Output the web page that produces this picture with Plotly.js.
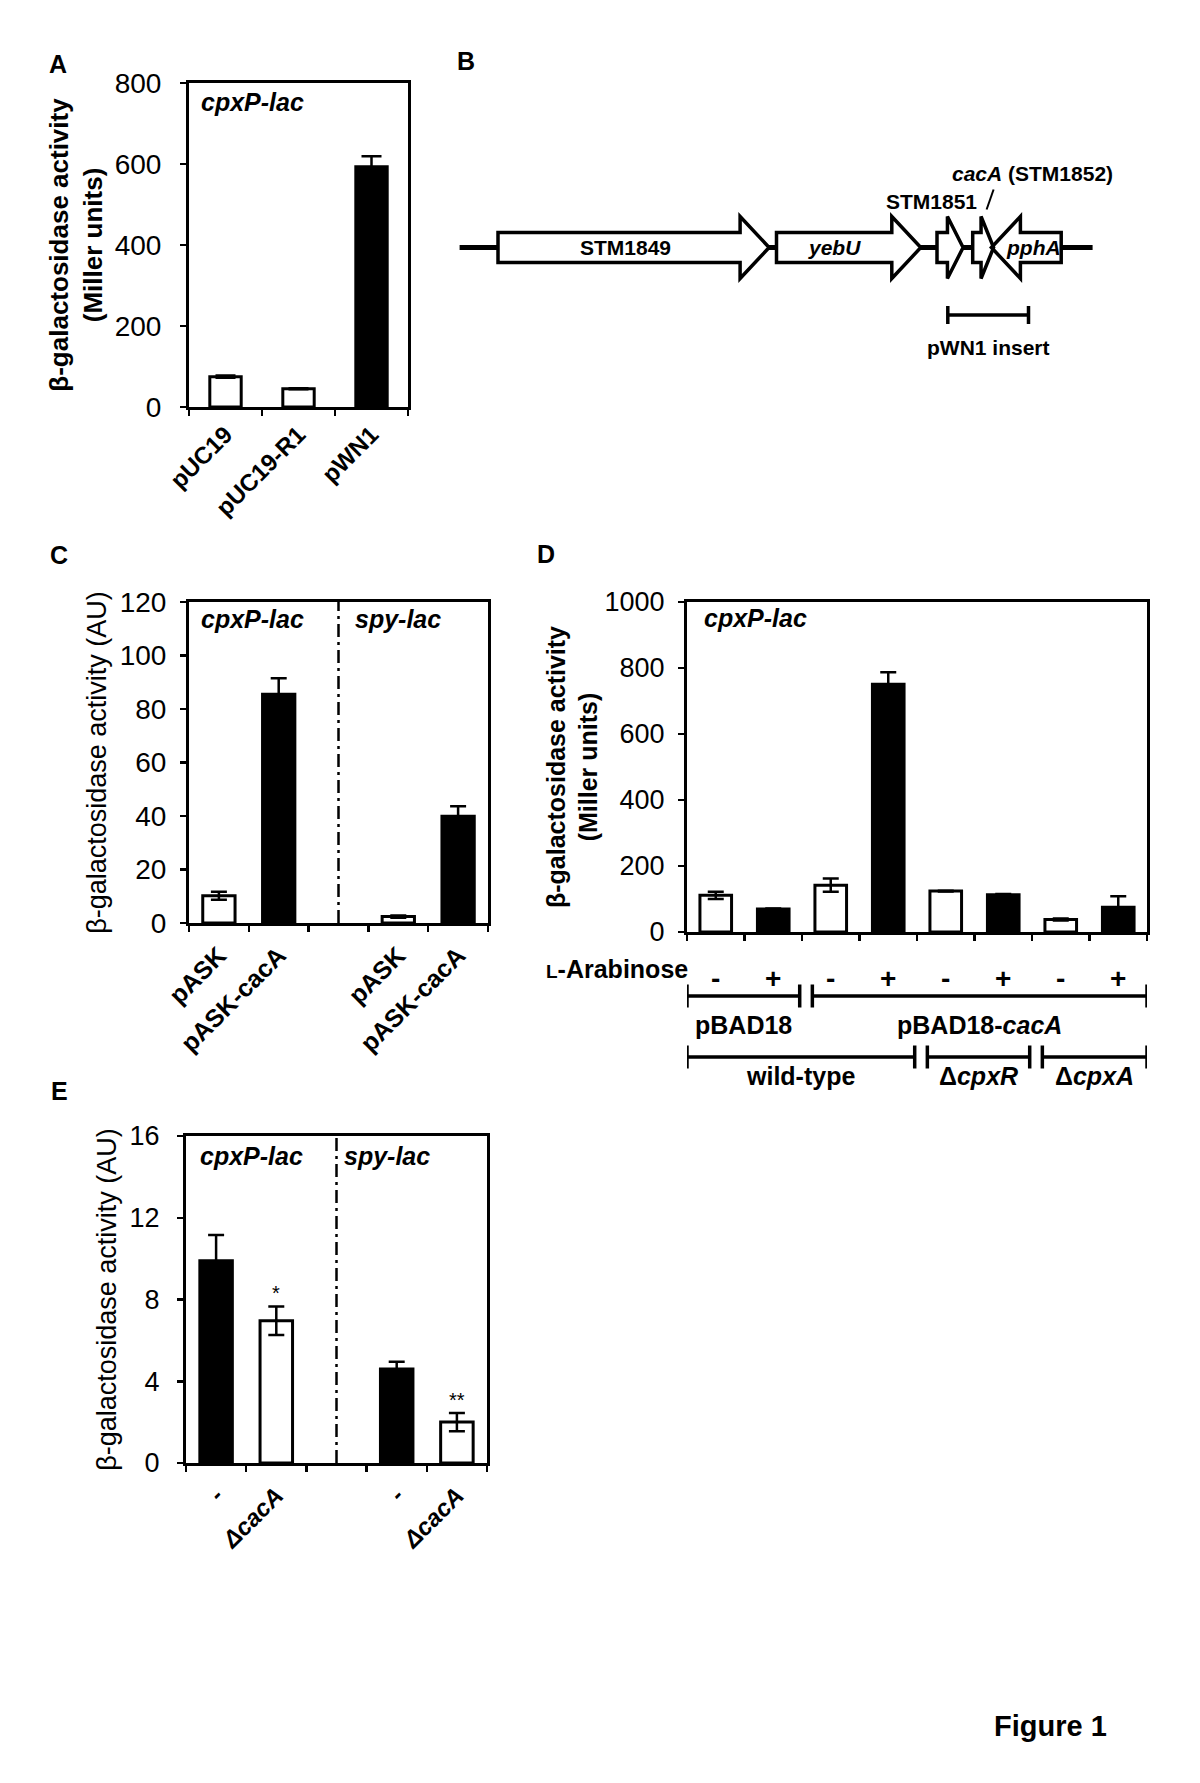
<!DOCTYPE html>
<html><head><meta charset="utf-8">
<script src="https://cdn.plot.ly/plotly-3.0.1.min.js"></script>
<style>html,body{margin:0;padding:0;background:#fff}</style>
</head><body><div id="chart" style="width:1200px;height:1783px"></div>
<script>
// ---------------- DATA ----------------
// Panel A
const aCategories = ['pUC19', 'pUC19-R1', 'pWN1'];
const aValues = [75, 45, 593];
const aErrors = [3, 1, 26];
const aFill = ['white', 'white', 'black'];

// Panel B (gene map, diagram units)
const geneNames = ['STM1849', 'yebU', 'STM1851', 'cacA', 'pphA'];
const geneStart = [498, 776.5, 937, 972.7, 1061.2];
const geneEnd = [769.1, 920.8, 963.1, 993.6, 991.4];
const locusSpan = [459.6, 1092.6];
const insertSpan = [947.8, 1028.5];

// Panel C
const cCategories = ['pASK', 'pASK-cacA', '', 'pASK', 'pASK-cacA'];
const cValues = [10.2, 85.5, null, 2.4, 39.9];
const cErrors = [1.5, 6, null, 0.4, 3.7];
const cFill = ['white', 'black', null, 'white', 'black'];
const cReporters = ['cpxP-lac', 'spy-lac'];

// Panel D
const dArabinose = ['-', '+', '-', '+', '-', '+', '-', '+'];
const dValues = [111, 70, 142, 751, 124, 113, 38, 75];
const dErrors = [11, 1, 20, 36, 1, 2, 3, 33];
const dFill = ['white', 'black', 'white', 'black', 'white', 'black', 'white', 'black'];
const dPlasmidLabels = ['pBAD18', 'pBAD18-<i>cacA</i>'];
const dPlasmidFrom = [0, 2];
const dPlasmidTo = [1, 7];
const dStrainLabels = ['wild-type', 'Δ<i>cpxR</i>', 'Δ<i>cpxA</i>'];
const dStrainFrom = [0, 4, 6];
const dStrainTo = [3, 5, 7];

// Panel E
const eCategories = ['-', 'ΔcacA', '', '-', 'ΔcacA'];
const eValues = [9.9, 6.96, null, 4.6, 2.0];
const eErrors = [1.26, 0.7, null, 0.35, 0.45];
const eFill = ['black', 'white', null, 'black', 'white'];
const eSignificance = ['', '*', '', '', '**'];

// ---------------- LAYOUT HELPERS ----------------
const W = 1200, H = 1783;
const FONT = 'Liberation Sans, Arial, Helvetica, sans-serif';
const px = x => x / W;
const py = y => 1 - y / H;
const domX = (l, r) => [px(l), px(r)];
const domY = (t, b) => [py(b), py(t)];
const idx = n => Array.from({length: n}, (_, i) => i);
const bounds = n => Array.from({length: n + 1}, (_, i) => i - 0.5);

function xCat(domain, labels, opt) {
  const n = labels.length;
  const keep = idx(n).filter(i => labels[i] !== '');
  return Object.assign({
    domain: domain, range: [-0.5, n - 0.5], tickmode: 'array',
    tickvals: keep, ticktext: keep.map(i => labels[i]),
    ticks: '', showline: true, mirror: true, linecolor: 'black', linewidth: 3,
    showgrid: false, zeroline: false, fixedrange: true,
    tickangle: -45,
    tickfont: {family: FONT, size: 24, color: 'black', weight: 'bold'},
    minor: {tickmode: 'array', tickvals: bounds(n), ticks: 'outside', ticklen: 6,
            tickwidth: 2.5, tickcolor: 'black', showgrid: false}
  }, opt || {});
}
function yVal(domain, max, dtick, opt) {
  return Object.assign({
    domain: domain, range: [0, max], dtick: dtick, tick0: 0,
    ticks: 'outside', ticklen: 6, tickwidth: 2.5, tickcolor: 'black',
    showline: true, mirror: true, linecolor: 'black', linewidth: 3,
    showgrid: false, zeroline: false, fixedrange: true,
    tickfont: {family: FONT, size: 28, color: 'black'}
  }, opt || {});
}
function barTrace(values, errors, fills, xa, ya, width, cap) {
  const keep = idx(values.length).filter(i => values[i] !== null);
  return {
    type: 'bar', xaxis: xa, yaxis: ya, width: width,
    x: keep, y: keep.map(i => values[i]),
    marker: {color: keep.map(i => fills[i]), line: {color: 'black', width: 3}},
    error_y: {type: 'data', array: keep.map(i => errors[i]), visible: true,
              color: 'black', thickness: 2.5, width: cap},
    hoverinfo: 'skip', showlegend: false
  };
}

// ---------------- TRACES ----------------
const traces = [
  barTrace(aValues, aErrors, aFill, 'x', 'y', 0.43, 10),
  barTrace(cValues, cErrors, cFill, 'x2', 'y2', 0.54, 8),
  barTrace(dValues, dErrors, dFill, 'x3', 'y3', 0.55, 8),
  barTrace(eValues, eErrors, eFill, 'x4', 'y4', 0.54, 8),
  {type: 'scatter', x: [locusSpan[0]], y: [0], xaxis: 'x5', yaxis: 'y5',
   mode: 'markers', marker: {size: 1, color: 'rgba(0,0,0,0)'}, hoverinfo: 'skip', showlegend: false}
];

// ---------------- SHAPES ----------------
const shapes = [];
// Panel B: backbone
shapes.push({type: 'line', xref: 'x5', yref: 'y5', x0: locusSpan[0], x1: locusSpan[1], y0: 0, y1: 0,
             line: {color: 'black', width: 5}});
function genePath(s, e) {
  const dir = e > s ? 1 : -1;
  const len = Math.abs(e - s);
  const head = Math.min(29, 0.6 * len);
  const hb = e - dir * head;
  const bh = 15, hh = 31;
  return `M${s},${-bh} L${hb},${-bh} L${hb},${-hh} L${e},0 L${hb},${hh} L${hb},${bh} L${s},${bh} Z`;
}
geneNames.forEach((g, i) => shapes.push({type: 'path', xref: 'x5', yref: 'y5',
  path: genePath(geneStart[i], geneEnd[i]), fillcolor: 'white', line: {width: 0}}));
geneNames.forEach((g, i) => shapes.push({type: 'path', xref: 'x5', yref: 'y5',
  path: genePath(geneStart[i], geneEnd[i]), fillcolor: 'rgba(0,0,0,0)', line: {color: 'black', width: 3.5}}));
// insert bar
const insY = -67.5;
shapes.push({type: 'line', xref: 'x5', yref: 'y5', x0: insertSpan[0], x1: insertSpan[1], y0: insY, y1: insY, line: {color: 'black', width: 3.5}});
insertSpan.forEach(x => shapes.push({type: 'line', xref: 'x5', yref: 'y5', x0: x, x1: x, y0: insY - 9, y1: insY + 9, line: {color: 'black', width: 3.5}}));
// leader for cacA label
const cacAi = geneNames.indexOf('cacA');
shapes.push({type: 'line', xref: 'x5', yref: 'y5', x0: geneEnd[cacAi] - 7, x1: geneEnd[cacAi], y0: 38, y1: 58,
             line: {color: 'black', width: 2}});

// dash-dot separators in C and E
[['x2', 'y2'], ['x4', 'y4']].forEach(([xa, ya]) => shapes.push({type: 'line', xref: xa, yref: ya + ' domain',
  x0: 2, x1: 2, y0: 0, y1: 1, line: {color: 'black', width: 2.5, dash: '13px,5px,3px,5px'}}));

// Panel D brackets
function bracket(from, to, n, yPix) {
  const x0 = from === 0 ? -0.5 : from - 0.5 + 0.18;
  const x1 = to === n - 1 ? n - 0.5 : to + 0.5 - 0.04;
  const t = 11.5;
  shapes.push({type: 'line', xref: 'x3', yref: 'paper', x0: x0, x1: x1, y0: py(yPix), y1: py(yPix), line: {color: 'black', width: 3.5}});
  [x0, x1].forEach(x => shapes.push({type: 'line', xref: 'x3', yref: 'paper', x0: x, x1: x, y0: py(yPix - t), y1: py(yPix + t), line: {color: 'black', width: 3.5}}));
  return (x0 + x1) / 2;
}

// ---------------- ANNOTATIONS ----------------
const ann = [];
function txt(text, x, y, size, opt) {
  ann.push(Object.assign({text: text, x: x, y: y, xref: 'paper', yref: 'paper', showarrow: false,
    xanchor: 'center', yanchor: 'middle',
    font: {family: FONT, size: size, color: 'black', weight: 'bold'}}, opt || {}));
}
// panel letters
txt('A', px(58), py(64), 25);
txt('B', px(466), py(61), 25);
txt('C', px(59), py(555), 25);
txt('D', px(546), py(554), 25);
txt('E', px(59), py(1091), 25);
// reporter labels
const ital = {family: FONT, size: 25, color: 'black', weight: 'bold', style: 'italic'};
txt(cReporters[0], px(199), py(102), 25, {xanchor: 'left', font: ital});
txt(cReporters[0], px(199), py(619), 25, {xanchor: 'left', font: ital});
txt(cReporters[1], px(353), py(619), 25, {xanchor: 'left', font: ital});
txt(cReporters[0], px(702), py(618), 25, {xanchor: 'left', font: ital});
txt(cReporters[0], px(198), py(1156), 25, {xanchor: 'left', font: ital});
txt(cReporters[1], px(342), py(1156), 25, {xanchor: 'left', font: ital});

// Panel B gene labels
const bFont = {family: FONT, size: 21, color: 'black', weight: 'bold'};
function bTxt(text, x, y, opt) {
  ann.push(Object.assign({text: text, x: x, y: y, xref: 'x5', yref: 'y5', showarrow: false,
    xanchor: 'center', yanchor: 'middle', font: bFont}, opt || {}));
}
bTxt(geneNames[0], 625, 0);
bTxt('<i>' + geneNames[1] + '</i>', 834, 0);
bTxt('<i>' + geneNames[4] + '</i>', 1033, 0);
bTxt(geneNames[2], 931, 46);
bTxt('<i>' + geneNames[3] + '</i> (STM1852)', 1032, 73.5);
bTxt('pWN1 insert', (insertSpan[0] + insertSpan[1]) / 2, -100.5);

// Panel D under-axis rows
txt('<span style="font-size:19px">L</span>-Arabinose', px(690), py(969), 25, {xanchor: 'right'});
dPlasmidLabels.forEach((l, i) => {
  const c = bracket(dPlasmidFrom[i], dPlasmidTo[i], dValues.length, 996);
  ann.push({text: l, x: c, y: py(1024.5), xref: 'x3', yref: 'paper', showarrow: false,
    xanchor: 'center', yanchor: 'middle', font: {family: FONT, size: 25, color: 'black', weight: 'bold'}});
});
dStrainLabels.forEach((l, i) => {
  const c = bracket(dStrainFrom[i], dStrainTo[i], dValues.length, 1057);
  ann.push({text: l, x: c, y: py(1076), xref: 'x3', yref: 'paper', showarrow: false,
    xanchor: 'center', yanchor: 'middle', font: {family: FONT, size: 25, color: 'black', weight: 'bold'}});
});

// Panel E significance marks
eSignificance.forEach((s, i) => {
  if (!s) return;
  ann.push({text: s, x: i, y: eValues[i] + eErrors[i], xref: 'x4', yref: 'y4', showarrow: false,
    xanchor: 'center', yanchor: 'bottom', yshift: 0, font: {family: FONT, size: 20, color: 'black'}});
});

// Figure label
txt('Figure 1', px(1050), py(1726), 29);

// ---------------- AXES ----------------
const titleBold = (t, s, st) => ({text: t, standoff: st, font: {family: FONT, size: s, color: 'black', weight: 'bold'}});
const titleReg = (t, s, st) => ({text: t, standoff: st, font: {family: FONT, size: s, color: 'black'}});

const layout = {
  width: W, height: H, margin: {l: 0, r: 0, t: 0, b: 0},
  paper_bgcolor: 'white', plot_bgcolor: 'rgba(0,0,0,0)', showlegend: false,
  font: {family: FONT, color: 'black'},
  bargap: 0,
  // A
  xaxis: xCat(domX(189, 408), aCategories, {anchor: 'y', ticklabelstandoff: 1}),
  yaxis: yVal(domY(83, 407), 800, 200, {anchor: 'x', ticklabelstandoff: 13,
    title: titleBold('β-galactosidase activity<br>(Miller units)', 26, 5)}),
  // C
  xaxis2: xCat(domX(189, 488), cCategories, {anchor: 'y2', ticklabelstandoff: 5,
    tickfont: {family: FONT, size: 25, color: 'black', weight: 'bold'}}),
  yaxis2: yVal(domY(602, 923), 120, 20, {anchor: 'x2', ticklabelstandoff: 8,
    title: titleReg('β-galactosidase activity (AU)', 27, 6)}),
  // D
  xaxis3: xCat(domX(687, 1147), dArabinose, {anchor: 'y3', tickangle: 0, ticklabelstandoff: 19,
    tickfont: {family: FONT, size: 28, color: 'black', weight: 'bold'}}),
  yaxis3: yVal(domY(602, 932), 1000, 200, {anchor: 'x3', ticklabelstandoff: 8,
    tickfont: {family: FONT, size: 27, color: 'black'},
    title: titleBold('β-galactosidase activity<br>(Miller units)', 25, 0)}),
  // E
  xaxis4: xCat(domX(186, 487), eCategories, {anchor: 'y4', ticklabelstandoff: 6,
    tickfont: {family: FONT, size: 24, color: 'black', weight: 'bold', style: 'italic'}}),
  yaxis4: yVal(domY(1136, 1463), 16, 4, {anchor: 'x4', ticklabelstandoff: 12,
    tickfont: {family: FONT, size: 27, color: 'black'},
    title: titleReg('β-galactosidase activity (AU)', 27, 6)}),
  // B (gene map)
  xaxis5: {domain: domX(440, 1120), range: [440, 1120], visible: false, fixedrange: true, anchor: 'y5'},
  yaxis5: {domain: domY(160, 380), range: [-132.5, 87.5], visible: false, fixedrange: true, anchor: 'x5'},
  shapes: shapes,
  annotations: ann
};

Plotly.newPlot('chart', traces, layout, {displayModeBar: false, staticPlot: true});
</script>
</body></html>
